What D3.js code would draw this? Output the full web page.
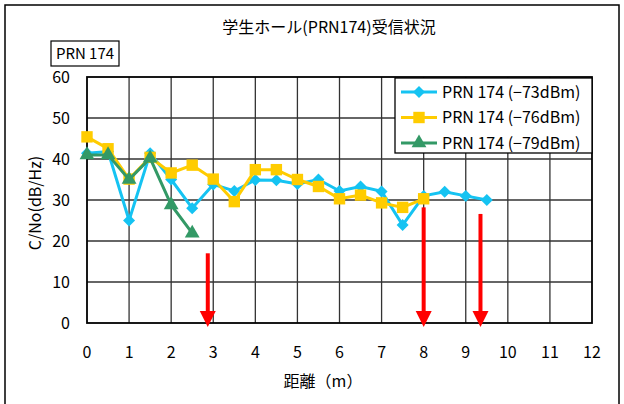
<!DOCTYPE html>
<html>
<head>
<meta charset="utf-8">
<script src="https://cdn.jsdelivr.net/npm/d3@7"></script>
<style>
  body { margin: 0; background: #fff; }
  text { font-family: "Noto Sans CJK JP", "Noto Sans", sans-serif; fill: #000; }
</style>
</head>
<body>
<div id="graphic"></div>
<script>
// data
const distances = [0, 0.5, 1, 1.5, 2, 2.5, 3, 3.5, 4, 4.5, 5, 5.5, 6, 6.5, 7, 7.5, 8, 8.5, 9, 9.5];
const cn73 = [41.4, 41.8, 25, 41.4, 35, 28, 33.8, 32.2, 34.9, 34.8, 33.9, 35, 32.2, 33.3, 32.1, 23.9, 31, 32, 31, 30];
const cn76 = [45.4, 42.5, 35.1, 40.4, 36.6, 38.5, 35.1, 29.6, 37.4, 37.4, 35, 33.3, 30.3, 31.2, 29.3, 28.2, 30.3];
const cn79 = [41, 41, 35, 40.2, 28.8, 21.9];
const seriesNames = ["PRN 174 (\u221273dBm)", "PRN 174 (\u221276dBm)", "PRN 174 (\u221279dBm)"];
const xTicks = d3.range(0, 13, 1);
const yTicks = d3.range(0, 61, 10);
// red arrows: [distance, start value]
const arrows = [[2.87, 17], [8.0, 28.2], [9.35, 26.6]];

const W = 624, H = 404;
const svg = d3.select("#graphic").append("svg")
    .attr("width", W).attr("height", H);

// outer frame
svg.append("rect")
    .attr("x", 5).attr("y", 5).attr("width", 614).attr("height", 420)
    .attr("fill", "#fff").attr("stroke", "#000").attr("stroke-width", 1.5);

const x = d3.scaleLinear().domain([0, 12]).range([87, 592]);
const y = d3.scaleLinear().domain([0, 60]).range([323, 77]);

// gridlines
svg.append("g").selectAll("line.v").data(xTicks.slice(1, -1)).join("line")
    .attr("x1", d => x(d)).attr("x2", d => x(d))
    .attr("y1", y(60)).attr("y2", y(0))
    .attr("stroke", "#333").attr("stroke-width", 1.3);
svg.append("g").selectAll("line.h").data(yTicks.slice(1, -1)).join("line")
    .attr("x1", x(0)).attr("x2", x(12))
    .attr("y1", d => y(d)).attr("y2", d => y(d))
    .attr("stroke", "#333").attr("stroke-width", 1.3);

// plot border
svg.append("rect")
    .attr("x", x(0)).attr("y", y(60))
    .attr("width", x(12) - x(0)).attr("height", y(0) - y(60))
    .attr("fill", "none").attr("stroke", "#000").attr("stroke-width", 1.8);

// axis labels
svg.append("g").selectAll("text").data(yTicks).join("text")
    .attr("x", 70).attr("y", d => y(d)).attr("dy", "0.35em")
    .attr("text-anchor", "end").attr("font-size", 16)
    .text(d => d);
svg.append("g").selectAll("text").data(xTicks).join("text")
    .attr("x", d => x(d)).attr("y", 352).attr("dy", "0.35em")
    .attr("text-anchor", "middle").attr("font-size", 16)
    .text(d => d);

svg.append("text").attr("x", 329).attr("y", 27).attr("dy", "0.35em")
    .attr("text-anchor", "middle").attr("font-size", 16)
    .text("学生ホール(PRN174)受信状況");
svg.append("text").attr("x", 323).attr("y", 381).attr("dy", "0.35em")
    .attr("text-anchor", "middle").attr("font-size", 16)
    .text("距離（m）");
svg.append("text")
    .attr("transform", "translate(35,203) rotate(-90)")
    .attr("dy", "0.35em")
    .attr("text-anchor", "middle").attr("font-size", 16)
    .text("C/No(dB/Hz)");

// PRN 174 box
svg.append("rect").attr("x", 51).attr("y", 41).attr("width", 68).attr("height", 25)
    .attr("fill", "#fff").attr("stroke", "#000").attr("stroke-width", 1.2);
svg.append("text").attr("x", 85).attr("y", 54).attr("dy", "0.35em")
    .attr("text-anchor", "middle").attr("font-size", 15)
    .text("PRN 174");

// series (diamond = square turned 45deg)
const series = [
    {vals: cn73, color: "#15c3f2", shape: d3.symbolSquare, size: 72, rot: 45},
    {vals: cn76, color: "#ffcc00", shape: d3.symbolSquare, size: 130, rot: 0},
    {vals: cn79, color: "#339966", shape: d3.symbolTriangle, size: 95, rot: 0}
];
const line = d3.line().x(d => x(d[0])).y(d => y(d[1]));

series.forEach(s => {
    const pts = s.vals.map((v, i) => [distances[i], v]);
    svg.append("path").datum(pts)
        .attr("d", line).attr("fill", "none")
        .attr("stroke", s.color).attr("stroke-width", 3);
    svg.append("g").selectAll("path").data(pts).join("path")
        .attr("transform", d => `translate(${x(d[0])},${y(d[1])}) rotate(${s.rot})`)
        .attr("d", d3.symbol().type(s.shape).size(s.size))
        .attr("fill", s.color);
});

// red arrows
const ag = svg.append("g").selectAll("g").data(arrows).join("g");
ag.append("line")
    .attr("x1", d => x(d[0])).attr("x2", d => x(d[0]))
    .attr("y1", d => y(d[1])).attr("y2", y(0) - 10)
    .attr("stroke", "#ff0000").attr("stroke-width", 4);
ag.append("path")
    .attr("d", d => {
        const cx = x(d[0]), tip = y(0) + 4;
        return `M${cx - 8},${tip - 16}L${cx + 8},${tip - 16}L${cx},${tip}Z`;
    })
    .attr("fill", "#ff0000");

// legend
const lg = svg.append("g");
lg.append("rect").attr("x", 395).attr("y", 78).attr("width", 197).attr("height", 75)
    .attr("fill", "#fff").attr("stroke", "#000").attr("stroke-width", 1.3);
const ly = d => 92 + d * 25.5;
series.forEach((s, i) => {
    lg.append("line").attr("x1", 401).attr("x2", 437)
        .attr("y1", ly(i)).attr("y2", ly(i))
        .attr("stroke", s.color).attr("stroke-width", 3);
    lg.append("path").attr("transform", `translate(419,${ly(i)}) rotate(${s.rot})`)
        .attr("d", d3.symbol().type(s.shape).size(s.size))
        .attr("fill", s.color);
    lg.append("text").attr("x", 442).attr("y", ly(i)).attr("dy", "0.35em")
        .attr("font-size", 16).text(seriesNames[i]);
});
</script>
</body>
</html>
